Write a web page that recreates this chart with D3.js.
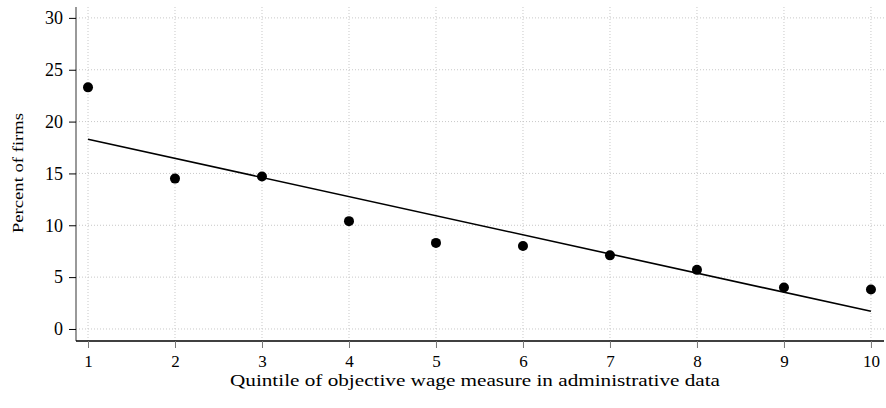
<!DOCTYPE html>
<html>
<head>
<meta charset="utf-8">
<script src="https://cdn.jsdelivr.net/npm/d3@7"></script>
<style>
  body { margin: 0; background: #fff; }
  text { font-family: "Liberation Serif", "DejaVu Serif", serif; fill: #000; }
</style>
</head>
<body>
<div id="chart"></div>
<script>
// data
const quintiles = [1, 2, 3, 4, 5, 6, 7, 8, 9, 10];
const percentFirms = [23.3, 14.5, 14.7, 10.4, 8.3, 8.0, 7.1, 5.7, 4.0, 3.8];
const fitX = [1, 10];
const fitY = [18.3, 1.7];
const yTicks = [0, 5, 10, 15, 20, 25, 30];
const xLabel = "Quintile of objective wage measure in administrative data";
const yLabel = "Percent of firms";

const width = 886, height = 408;
const plot = {left: 76, right: 884, top: 7, bottom: 341};

const svg = d3.select("#chart").append("svg")
    .attr("width", width)
    .attr("height", height);

const x = d3.scaleLinear()
    .domain([0.862, 10.15])
    .range([plot.left, plot.right]);

const y = d3.scaleLinear()
    .domain([-1.16, 31.05])
    .range([plot.bottom, plot.top]);

// grid lines, dotted
svg.append("g")
    .selectAll("line")
    .data(yTicks)
    .enter()
    .append("line")
    .attr("x1", plot.left)
    .attr("x2", plot.right)
    .attr("y1", d => y(d))
    .attr("y2", d => y(d))
    .attr("stroke", "#c8c8c8")
    .attr("stroke-width", 1)
    .attr("stroke-dasharray", "1,2");

svg.append("g")
    .selectAll("line")
    .data(quintiles)
    .enter()
    .append("line")
    .attr("x1", d => x(d))
    .attr("x2", d => x(d))
    .attr("y1", plot.top)
    .attr("y2", plot.bottom)
    .attr("stroke", "#c8c8c8")
    .attr("stroke-width", 1)
    .attr("stroke-dasharray", "1,2");

// y axis
const yAxis = svg.append("g")
    .attr("transform", `translate(${plot.left},0)`)
    .call(d3.axisLeft(y).tickValues(yTicks).tickSize(7).tickPadding(6));
yAxis.select(".domain").attr("stroke", "#777").attr("stroke-width", 1.5)
    .attr("d", `M0,${plot.top}V${plot.bottom}`);
yAxis.selectAll(".tick line").attr("stroke", "#000");
yAxis.selectAll(".tick text")
    .style("font-size", "18px")
    .attr("font-family", null);

// x axis
const xAxis = svg.append("g")
    .attr("transform", `translate(0,${plot.bottom})`)
    .call(d3.axisBottom(x).tickValues(quintiles).tickSize(7).tickPadding(7));
xAxis.select(".domain").attr("stroke", "#000").attr("stroke-width", 1.5)
    .attr("d", `M${plot.left},0H${plot.right}`);
xAxis.selectAll(".tick line").attr("stroke", "#777");
xAxis.selectAll(".tick text")
    .style("font-size", "17px")
    .attr("font-family", null);

// fitted line
const line = d3.line()
    .x(d => x(d[0]))
    .y(d => y(d[1]));

svg.append("path")
    .datum(d3.zip(fitX, fitY))
    .attr("d", line)
    .attr("fill", "none")
    .attr("stroke", "#000")
    .attr("stroke-width", 1.6);

// points
svg.append("g")
    .selectAll("circle")
    .data(d3.zip(quintiles, percentFirms))
    .enter()
    .append("circle")
    .attr("cx", d => x(d[0]))
    .attr("cy", d => y(d[1]))
    .attr("r", 5)
    .attr("fill", "#000");

// axis titles (the reference font runs wide, so stretch to its length)
svg.append("text")
    .attr("x", 230)
    .attr("y", 386)
    .attr("textLength", 490)
    .attr("lengthAdjust", "spacingAndGlyphs")
    .style("font-size", "16px")
    .text(xLabel);

svg.append("text")
    .attr("transform", `translate(23,233) rotate(-90)`)
    .attr("textLength", 120)
    .attr("lengthAdjust", "spacingAndGlyphs")
    .style("font-size", "14px")
    .text(yLabel);
</script>
</body>
</html>
